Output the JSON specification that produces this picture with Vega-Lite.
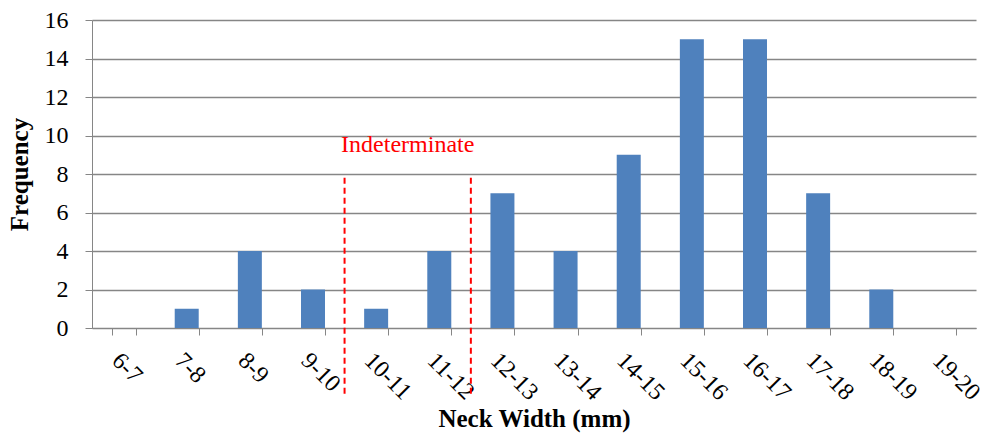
{
  "$schema": "https://vega.github.io/schema/vega-lite/v6.json",
  "width": 884,
  "height": 308,
  "autosize": {"type": "none"},
  "padding": {"left": 92, "top": 20, "right": 18, "bottom": 108},
  "background": "white",
  "config": {
    "font": "Liberation Serif",
    "view": {"stroke": null},
    "axis": {
      "labelFont": "Liberation Serif",
      "titleFont": "Liberation Serif",
      "titleFontSize": 25,
      "titleFontWeight": "bold",
      "titleColor": "black",
      "labelFontSize": 24,
      "labelColor": "black",
      "labelOverlap": false,
      "tickSize": 7,
      "tickColor": "#868686",
      "domainColor": "#868686"
    },
    "axisX": {
      "titlePadding": 2,
      "labelAngle": 45,
      "labelPadding": 13,
      "labelAlign": "left",
      "labelBaseline": "top",
      "tickBand": "extent",
      "grid": false
    },
    "axisY": {
      "titlePadding": 12,
      "labelPadding": 17,
      "tickCount": 8,
      "grid": true,
      "gridColor": "#868686",
      "gridWidth": 1.3
    },
    "text": {"font": "Liberation Serif"}
  },
  "datasets": {
    "bins": [
      {"bin": "6-7", "count": 0},
      {"bin": "7-8", "count": 1},
      {"bin": "8-9", "count": 4},
      {"bin": "9-10", "count": 2},
      {"bin": "10-11", "count": 1},
      {"bin": "11-12", "count": 4},
      {"bin": "12-13", "count": 7},
      {"bin": "13-14", "count": 4},
      {"bin": "14-15", "count": 9},
      {"bin": "15-16", "count": 15},
      {"bin": "16-17", "count": 15},
      {"bin": "17-18", "count": 7},
      {"bin": "18-19", "count": 2},
      {"bin": "19-20", "count": 0}
    ],
    "limits": [
      {"bin": "10-11", "top": 7.8, "bottom": -3.5},
      {"bin": "12-13", "top": 7.8, "bottom": -3.5}
    ],
    "label": [
      {"bin": "10-11", "y": 9.5, "text": "Indeterminate"}
    ]
  },
  "layer": [
    {
      "data": {"name": "bins"},
      "mark": {"type": "bar", "color": "#4F81BD"},
      "encoding": {
        "x": {
          "field": "bin",
          "type": "nominal",
          "title": "Neck Width (mm)",
          "scale": {
            "domain": ["6-7","7-8","8-9","9-10","10-11","11-12","12-13","13-14","14-15","15-16","16-17","17-18","18-19","19-20"],
            "paddingInner": 0.62,
            "paddingOuter": 0.31
          }
        },
        "y": {
          "field": "count",
          "type": "quantitative",
          "title": "Frequency",
          "scale": {"domain": [0, 16], "nice": false}
        }
      }
    },
    {
      "data": {"name": "limits"},
      "mark": {"type": "rule", "color": "#FF0000", "strokeWidth": 2, "strokeDash": [6, 4]},
      "encoding": {
        "x": {"field": "bin", "type": "nominal", "bandPosition": -0.816, "title": "Neck Width (mm)"},
        "y": {"field": "top", "type": "quantitative", "title": "Frequency"},
        "y2": {"field": "bottom"}
      }
    },
    {
      "data": {"name": "label"},
      "mark": {"type": "text", "color": "#FF0000", "fontSize": 24, "font": "Liberation Serif", "align": "center", "baseline": "middle"},
      "encoding": {
        "x": {"field": "bin", "type": "nominal", "bandPosition": 1.816, "title": "Neck Width (mm)"},
        "y": {"field": "y", "type": "quantitative", "title": "Frequency"},
        "text": {"field": "text"}
      }
    }
  ]
}
